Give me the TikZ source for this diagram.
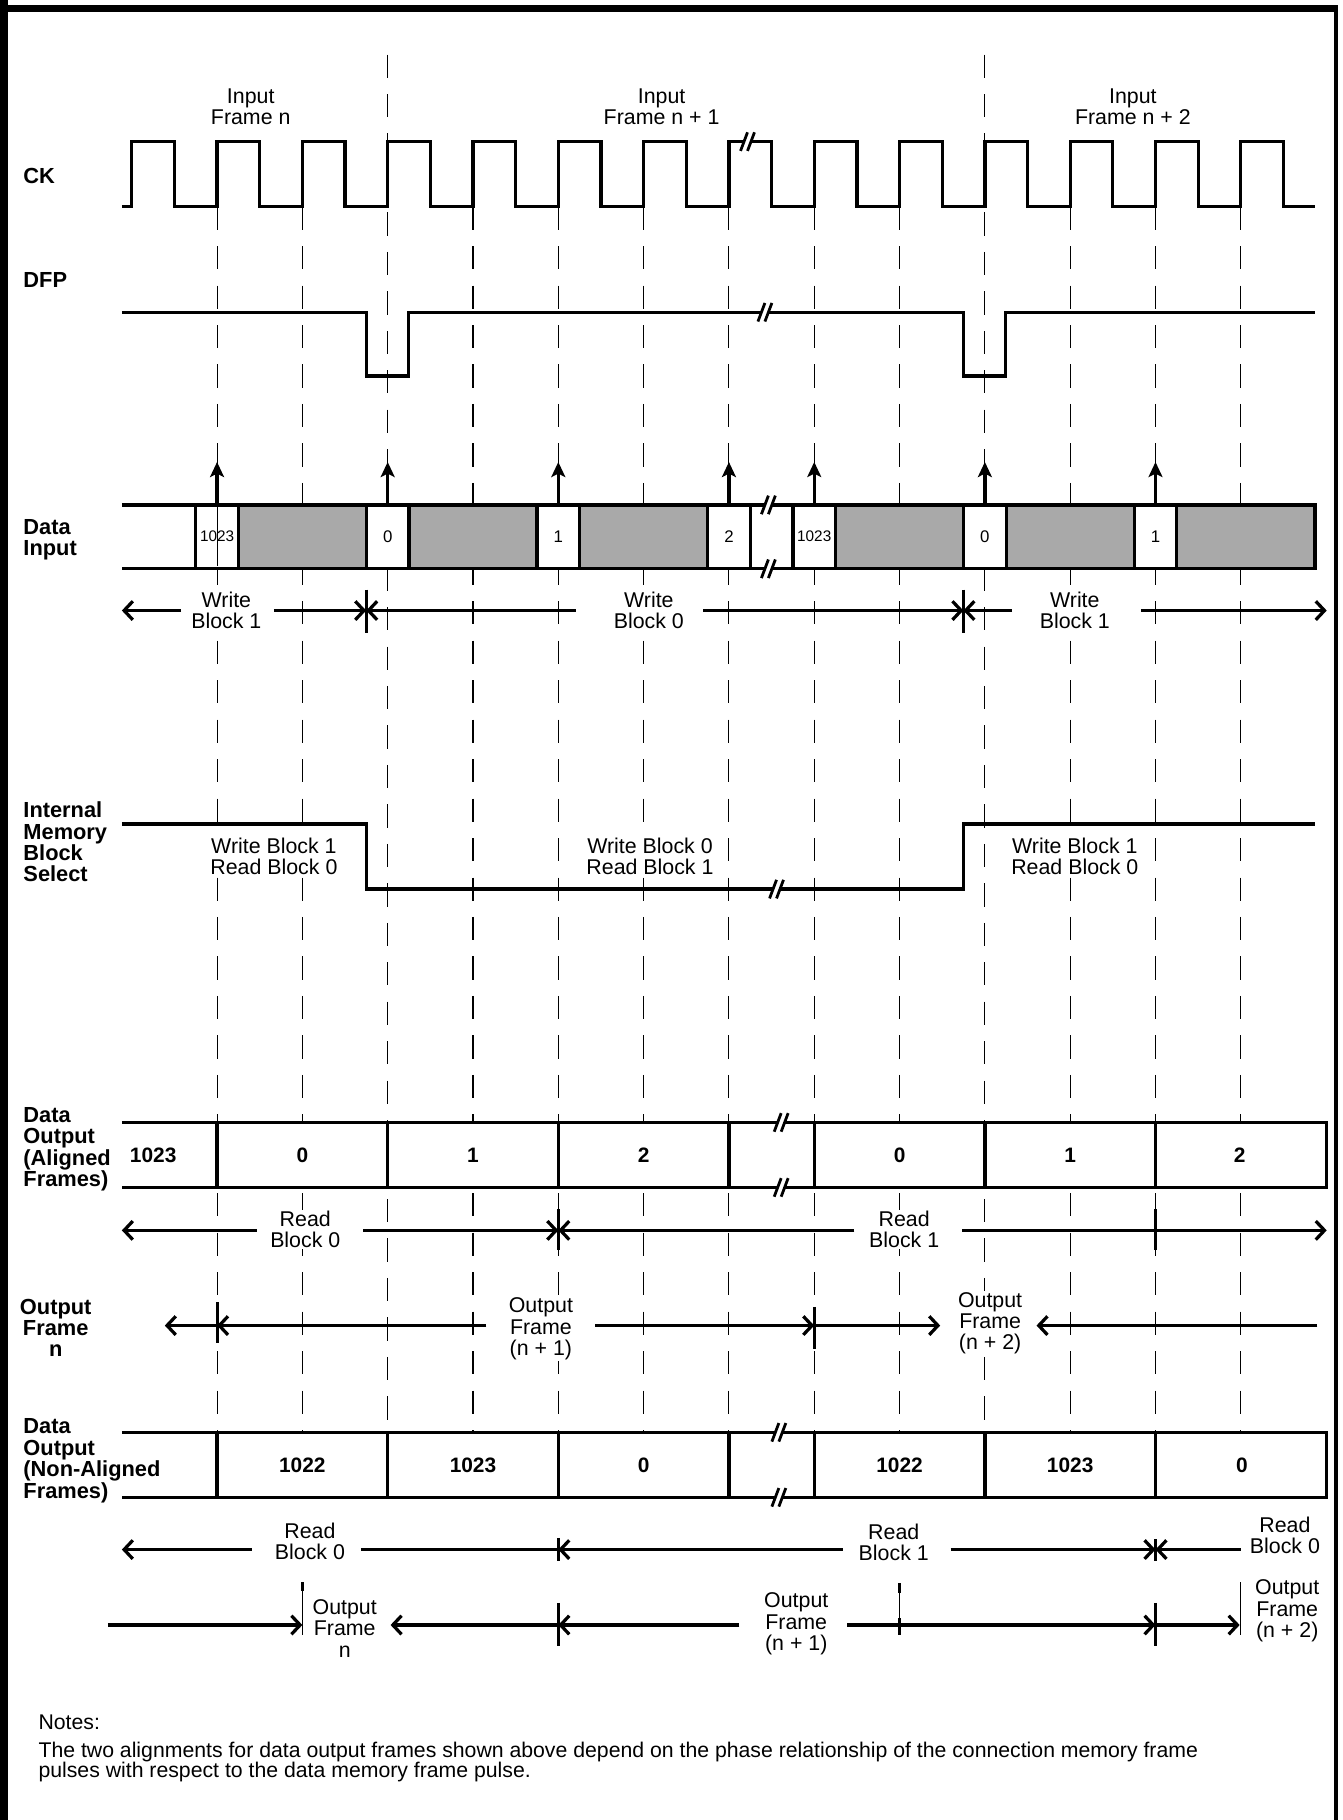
\documentclass[tikz,border=0pt]{standalone}
\usepackage{fontspec}
\setmainfont{Liberation Sans}
\usetikzlibrary{arrows.meta}
\definecolor{blockgray}{HTML}{A9A9A9}
\begin{document}
\begin{tikzpicture}[x=1pt,y=-1pt,
  sig/.style={line width=2.8pt, line cap=butt, line join=miter},
  gridl/.style={line width=0.9pt, dash pattern=on 20pt off 14pt},
  harr/.style={line width=2.8pt, -{Straight Barb[length=7.5pt,width=16pt]}},
  uarr/.style={line width=2.8pt, -{Stealth[length=13pt,width=12pt,inset=3pt]}},
  tickm/.style={line width=2.6pt},
  thinm/.style={line width=0.8pt},
  lbl/.style={font=\fontsize{18.8}{18.4}\selectfont\bfseries, align=left, anchor=west, inner sep=0pt},
  txt/.style={font=\fontsize{18.4}{18.4}\selectfont, align=center, inner sep=1pt, fill=white},
  num/.style={font=\fontsize{14.5}{14.5}\selectfont, inner sep=0pt},
  smallnum/.style={font=\fontsize{13.2}{13.2}\selectfont, inner sep=0pt},
  bnum/.style={font=\fontsize{18}{18}\selectfont\bfseries, inner sep=0pt},
  brk/.style={line width=2.4pt},
  brkmark/.pic={
    \fill[white] (-7,8) -- (-1,-8) -- (5,-8) -- (-1,8) -- cycle;
    \draw[brk] (-7,8) -- (-1,-8);
    \draw[brk] (-1,8) -- (5,-8);
  },
]
\useasboundingbox (0,0) rectangle (1157,1568);
% frame
\fill[black] (0,0) rectangle (7,1568);
\fill[black] (0,4) rectangle (1153,10);
\fill[black] (1149,4) rectangle (1153,1568);

% dashed time grid
\foreach \j in {0,...,12}{
  \pgfmathsetmacro\gx{187+73.5*\j}
  \ifnum\j=2 \def\gt{47}\else\ifnum\j=9 \def\gt{47}\else\def\gt{178}\fi\fi
  \draw[gridl] (\gx,\gt) -- (\gx,1234);
}

% titles
\node[txt,fill=none] (inN)  at (216,92) {Input\\Frame n};
\node[txt,fill=none] (inN1) at (570,92) {Input\\Frame n + 1};
\node[txt,fill=none] (inN2) at (976,92) {Input\\Frame n + 2};

% CK
\draw[sig] (105,178) foreach \k in {0,...,13} {
  -- ({113.5+73.5*\k},178) -- ({113.5+73.5*\k},122) -- ({150.25+73.5*\k},122) -- ({150.25+73.5*\k},178) }
  -- (1133,178);
\pic at (645,122) {brkmark};

% DFP
\draw[sig] (105,269) -- (315.5,269) -- (315.5,324) -- (352,324) -- (352,269)
  -- (830,269) -- (830,324) -- (866.5,324) -- (866.5,269) -- (1133,269);
\pic at (660,269) {brkmark};

% Data input
\fill[white] (105,435) rectangle (1133,490);
\foreach \a/\b in {205/315.5, 352/463, 499/610, 719/831, 866.5/978, 1014/1133}
  \fill[blockgray] (\a,435) rectangle (\b,490);
\draw[sig] (105,435) -- (1133,435) -- (1133,490) -- (105,490);
\foreach \c in {187,334,481,628,701.5,848.5,995.5}{
  \draw[sig] ({\c-18.4},435) -- ({\c-18.4},490);
  \draw[sig] ({\c+18.4},435) -- ({\c+18.4},490);
  \draw[uarr] (\c,435) -- (\c,398);
}
\draw[line width=0.9pt] (187,437) -- (187,488);
\pic at (663,435) {brkmark};
\pic at (663,490) {brkmark};
\node[smallnum] (di1) at (187,462) {1023};
\node[num] (di2) at (334,462) {0};
\node[num] (di3) at (481,462) {1};
\node[num] (di4) at (628,462) {2};
\node[smallnum] (di5) at (701.5,462) {1023};
\node[num] (di6) at (848.5,462) {0};
\node[num] (di7) at (995.5,462) {1};

% Write block arrows
\draw[harr] (156,526) -- (105,526);
\draw[harr] (236,526) -- (315.5,526);
\draw[tickm] (315.5,508) -- (315.5,545);
\draw[harr] (496,526) -- (315.5,526);
\draw[harr] (606,526) -- (830,526);
\draw[tickm] (830,508) -- (830,545);
\draw[harr] (872,526) -- (830,526);
\draw[harr] (983,526) -- (1143,526);
\node[txt] (wb1) at (195,526) {Write\\Block 1};
\node[txt] (wb0) at (559,526) {Write\\Block 0};
\node[txt] (wb1b) at (926,526) {Write\\Block 1};

% Internal memory block select
\draw[sig] (105,710) -- (315.5,710) -- (315.5,766) -- (830,766) -- (830,710) -- (1133,710);
\pic at (670,766) {brkmark};
\node[txt] (ms1) at (236,738) {Write Block 1\\Read Block 0};
\node[txt] (ms2) at (560,738) {Write Block 0\\Read Block 1};
\node[txt] (ms3) at (926,738) {Write Block 1\\Read Block 0};

% Data output aligned
\fill[white] (105,967) rectangle (1143,1023);
\draw[sig] (105,967) -- (1143,967) -- (1143,1023) -- (105,1023);
\foreach \c in {187,334,481,628,701.5,848.5,995.5}
  \draw[sig] (\c,967) -- (\c,1023);
\pic at (674,967) {brkmark};
\pic at (674,1023) {brkmark};
\node[bnum] (da1) at (132,995) {1023};
\node[bnum] (da2) at (260.5,995) {0};
\node[bnum] (da3) at (407.5,995) {1};
\node[bnum] (da4) at (554.5,995) {2};
\node[bnum] (da5) at (775,995) {0};
\node[bnum] (da6) at (922,995) {1};
\node[bnum] (da7) at (1068,995) {2};

% Read block (aligned)
\draw[harr] (221,1060) -- (105,1060);
\draw[harr] (313,1060) -- (481,1060);
\draw[tickm] (481,1042) -- (481,1077);
\draw[harr] (736,1060) -- (481,1060);
\draw[harr] (829,1060) -- (1143,1060);
\draw[tickm] (995.5,1042) -- (995.5,1077);
\node[txt] (ra0) at (263,1059) {Read\\Block 0};
\node[txt] (ra1) at (779,1059) {Read\\Block 1};

% Output frame (aligned)
\draw[harr] (187,1142) -- (142,1142);
\draw[tickm] (187,1122) -- (187,1157);
\draw[harr] (419,1142) -- (187,1142);
\draw[harr] (513,1142) -- (701.5,1142);
\draw[tickm] (701.5,1126) -- (701.5,1162);
\draw[harr] (701.5,1142) -- (810,1142);
\draw[harr] (1135,1142) -- (893,1142);
\node[txt] (ofa1) at (466,1145) {Output\\Frame\\(n + 1)};
\node[txt] (ofa2) at (853,1140) {Output\\Frame\\(n + 2)};

% Data output non-aligned
\fill[white] (105,1234) rectangle (1143,1290);
\draw[sig] (105,1234) -- (1143,1234) -- (1143,1290) -- (105,1290);
\foreach \c in {187,334,481,628,701.5,848.5,995.5}
  \draw[sig] (\c,1234) -- (\c,1290);
\pic at (672,1234) {brkmark};
\pic at (672,1290) {brkmark};
\node[bnum] (dn1) at (260.5,1262) {1022};
\node[bnum] (dn2) at (407.5,1262) {1023};
\node[bnum] (dn3) at (554.5,1262) {0};
\node[bnum] (dn4) at (775,1262) {1022};
\node[bnum] (dn5) at (922,1262) {1023};
\node[bnum] (dn6) at (1070,1262) {0};

% Read block (non-aligned)
\draw[harr] (217,1335) -- (105,1335);
\draw[sig] (311,1335) -- (481,1335);
\draw[tickm] (481,1325) -- (481,1345);
\draw[harr] (726,1335) -- (481,1335);
\draw[harr] (819,1335) -- (995.5,1335);
\draw[tickm] (995.5,1326) -- (995.5,1345);
\draw[harr] (1069,1335) -- (995.5,1335);
\node[txt] (rn0) at (267,1328) {Read\\Block 0};
\node[txt] (rn1) at (770,1329) {Read\\Block 1};
\node[txt] (rn0b) at (1107,1323) {Read\\Block 0};

% Output frame (non-aligned)
\draw[harr] (93,1400) -- (260.5,1400);
\draw[tickm] (260.5,1363) -- (260.5,1371);
\draw[thinm] (260.5,1371) -- (260.5,1409);
\draw[harr] (481,1400) -- (336.5,1400);
\draw[tickm] (481,1381) -- (481,1418);
\draw[harr] (637,1400) -- (481,1400);
\draw[harr] (730,1400) -- (995.5,1400);
\draw[tickm] (775,1364) -- (775,1372);
\draw[thinm] (775,1372) -- (775,1409);
\draw[tickm] (775,1394) -- (775,1409);
\draw[tickm] (995.5,1381) -- (995.5,1418);
\draw[harr] (995.5,1400) -- (1068,1400);
\draw[thinm] (1069,1363) -- (1069,1409);
\node[txt] (ofn0) at (297,1403) {Output\\Frame\\n};
\node[txt] (ofn1) at (686,1399) {Output\\Frame\\(n + 1)};
\node[txt] (ofn2) at (1109,1388) {Output\\Frame\\(n + 2)};

% left labels (drawn last so they sit over the open box ends)
\node[lbl] (lck)  at (20,152) {CK};
\node[lbl] (ldfp) at (20,241) {DFP};
\node[lbl] (ldi)  at (20,465) {Data\\Input};
\node[lbl] (limbs) at (20,725.5) {Internal\\Memory\\Block\\Select};
\node[lbl] (ldoa) at (20,990) {Data\\Output\\(Aligned\\Frames)};
\node[lbl,align=center,anchor=center] (lofn) at (48,1144) {Output\\Frame\\n};
\node[lbl] (ldon) at (20,1258.5) {Data\\Output\\(Non-Aligned\\Frames)};

% Notes
\node[font=\fontsize{18.3}{18}\selectfont, anchor=west, inner sep=0pt] (notes) at (33,1484) {Notes:};
\node[font=\fontsize{18.3}{17.5}\selectfont, anchor=west, align=left, inner sep=0pt] (notebody) at (33,1518)
  {The two alignments for data output frames shown above depend on the phase relationship of the connection memory frame\\pulses with respect to the data memory frame pulse.};
\end{tikzpicture}
\end{document}
